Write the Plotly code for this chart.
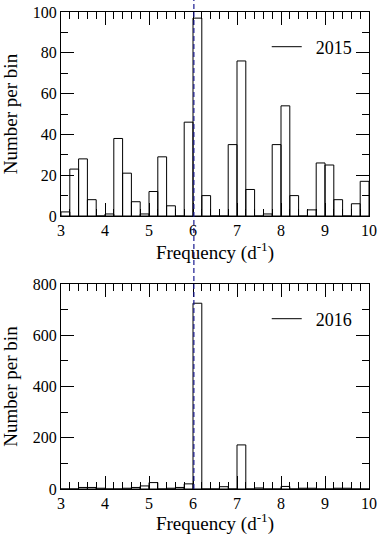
import plotly.graph_objects as go

# Bin centres of the frequency histogram (d^-1), bin width 0.2
freq_bins = [3.1, 3.3, 3.5, 3.7, 3.9, 4.1, 4.3, 4.5, 4.7, 4.9,
             5.1, 5.3, 5.5, 5.7, 5.9, 6.1, 6.3, 6.5, 6.7, 6.9,
             7.1, 7.3, 7.5, 7.7, 7.9, 8.1, 8.3, 8.5, 8.7, 8.9,
             9.1, 9.3, 9.5, 9.7, 9.9]
bin_width = 0.2

counts_2015 = [2, 23, 28, 8, 0, 1, 38, 21, 7, 1,
               12, 29, 5, 0, 46, 97, 10, 0, 0, 35,
               76, 13, 0, 1, 35, 54, 10, 0, 3, 26,
               25, 8, 0, 6, 17]

counts_2016 = [0, 0, 6, 6, 3, 0, 0, 3, 6, 12,
               25, 0, 3, 6, 20, 725, 0, 0, 9, 0,
               172, 0, 4, 0, 0, 10, 0, 3, 3, 0,
               0, 3, 3, 0, 0]

marked_frequency = 6.02

x_ticks = [3, 4, 5, 6, 7, 8, 9, 10]
y_ticks_2015 = [0, 20, 40, 60, 80, 100]
y_ticks_2016 = [0, 200, 400, 600, 800]

FONT = "Liberation Serif, Times New Roman, serif"
W, H = 382, 535
ML, MR, MT, MB = 61, 13, 12, 46
plot_h = H - MT - MB
top_dom = [(489 - 216) / plot_h, 1.0]
bot_dom = [0.0, (489 - 284) / plot_h]

fig = go.Figure()

fig.add_trace(go.Bar(x=freq_bins, y=counts_2015, width=bin_width,
                     marker=dict(color="rgba(0,0,0,0)", line=dict(color="black", width=1)),
                     showlegend=False, xaxis="x", yaxis="y"))
fig.add_trace(go.Scatter(x=[None], y=[None], mode="lines", name="\u00a0\u00a02015",
                         line=dict(color="black", width=1), xaxis="x", yaxis="y",
                         legend="legend"))

fig.add_trace(go.Bar(x=freq_bins, y=counts_2016, width=bin_width,
                     marker=dict(color="rgba(0,0,0,0)", line=dict(color="black", width=1)),
                     showlegend=False, xaxis="x2", yaxis="y2"))
fig.add_trace(go.Scatter(x=[None], y=[None], mode="lines", name="\u00a0\u00a02016",
                         line=dict(color="black", width=1), xaxis="x2", yaxis="y2",
                         legend="legend2"))

tickfont = dict(family=FONT, size=16, color="black")
titlefont = dict(family=FONT, size=19, color="black")

def xaxis_cfg(anchor):
    return dict(anchor=anchor, range=[3, 10], tickvals=x_ticks, automargin=False,
                ticks="inside", ticklen=13, tickwidth=1, tickcolor="black",
                minor=dict(ticks="inside", dtick=0.2, ticklen=7, tickwidth=1, tickcolor="black"),
                showline=True, linecolor="black", linewidth=1, mirror="ticks",
                showgrid=False, zeroline=False, tickfont=tickfont,
                title=dict(text="Frequency (d<sup>-1</sup>)", font=titlefont, standoff=0))

def yaxis_cfg(anchor, dom, rng, tv, dminor):
    return dict(anchor=anchor, domain=dom, range=rng, tickvals=tv, automargin=False,
                ticks="inside", ticklen=13, tickwidth=1, tickcolor="black",
                minor=dict(ticks="inside", dtick=dminor, ticklen=7, tickwidth=1, tickcolor="black"),
                showline=True, linecolor="black", linewidth=1, mirror="ticks",
                showgrid=False, zeroline=False, tickfont=tickfont,
                title=dict(text="Number per bin", font=titlefont, standoff=12))

fig.update_layout(
    width=W, height=H,
    margin=dict(l=ML, r=MR, t=MT, b=MB),
    paper_bgcolor="white", plot_bgcolor="white",
    barmode="overlay",
    xaxis=xaxis_cfg("y"),
    yaxis=yaxis_cfg("x", top_dom, [0, 100], y_ticks_2015, 10),
    xaxis2=xaxis_cfg("y2"),
    yaxis2=yaxis_cfg("x2", bot_dom, [0, 800], y_ticks_2016, 100),
    legend=dict(x=0.668, y=(489 - 47) / plot_h, xanchor="left", yanchor="middle",
                bgcolor="rgba(0,0,0,0)", font=dict(family=FONT, size=18, color="black")),
    legend2=dict(x=0.668, y=(489 - 319) / plot_h, xanchor="left", yanchor="middle",
                 bgcolor="rgba(0,0,0,0)", font=dict(family=FONT, size=18, color="black")),
    shapes=[dict(type="line", xref="x", yref="paper",
                 x0=marked_frequency, x1=marked_frequency, y0=0, y1=1 + MT / plot_h,
                 line=dict(color="#1a1a90", width=1.2, dash="5px,3px"), layer="above")],
)

fig.write_html("out.html", config={"displayModeBar": False},
               post_script="document.body.style.margin='0';document.body.style.overflow='hidden';")
